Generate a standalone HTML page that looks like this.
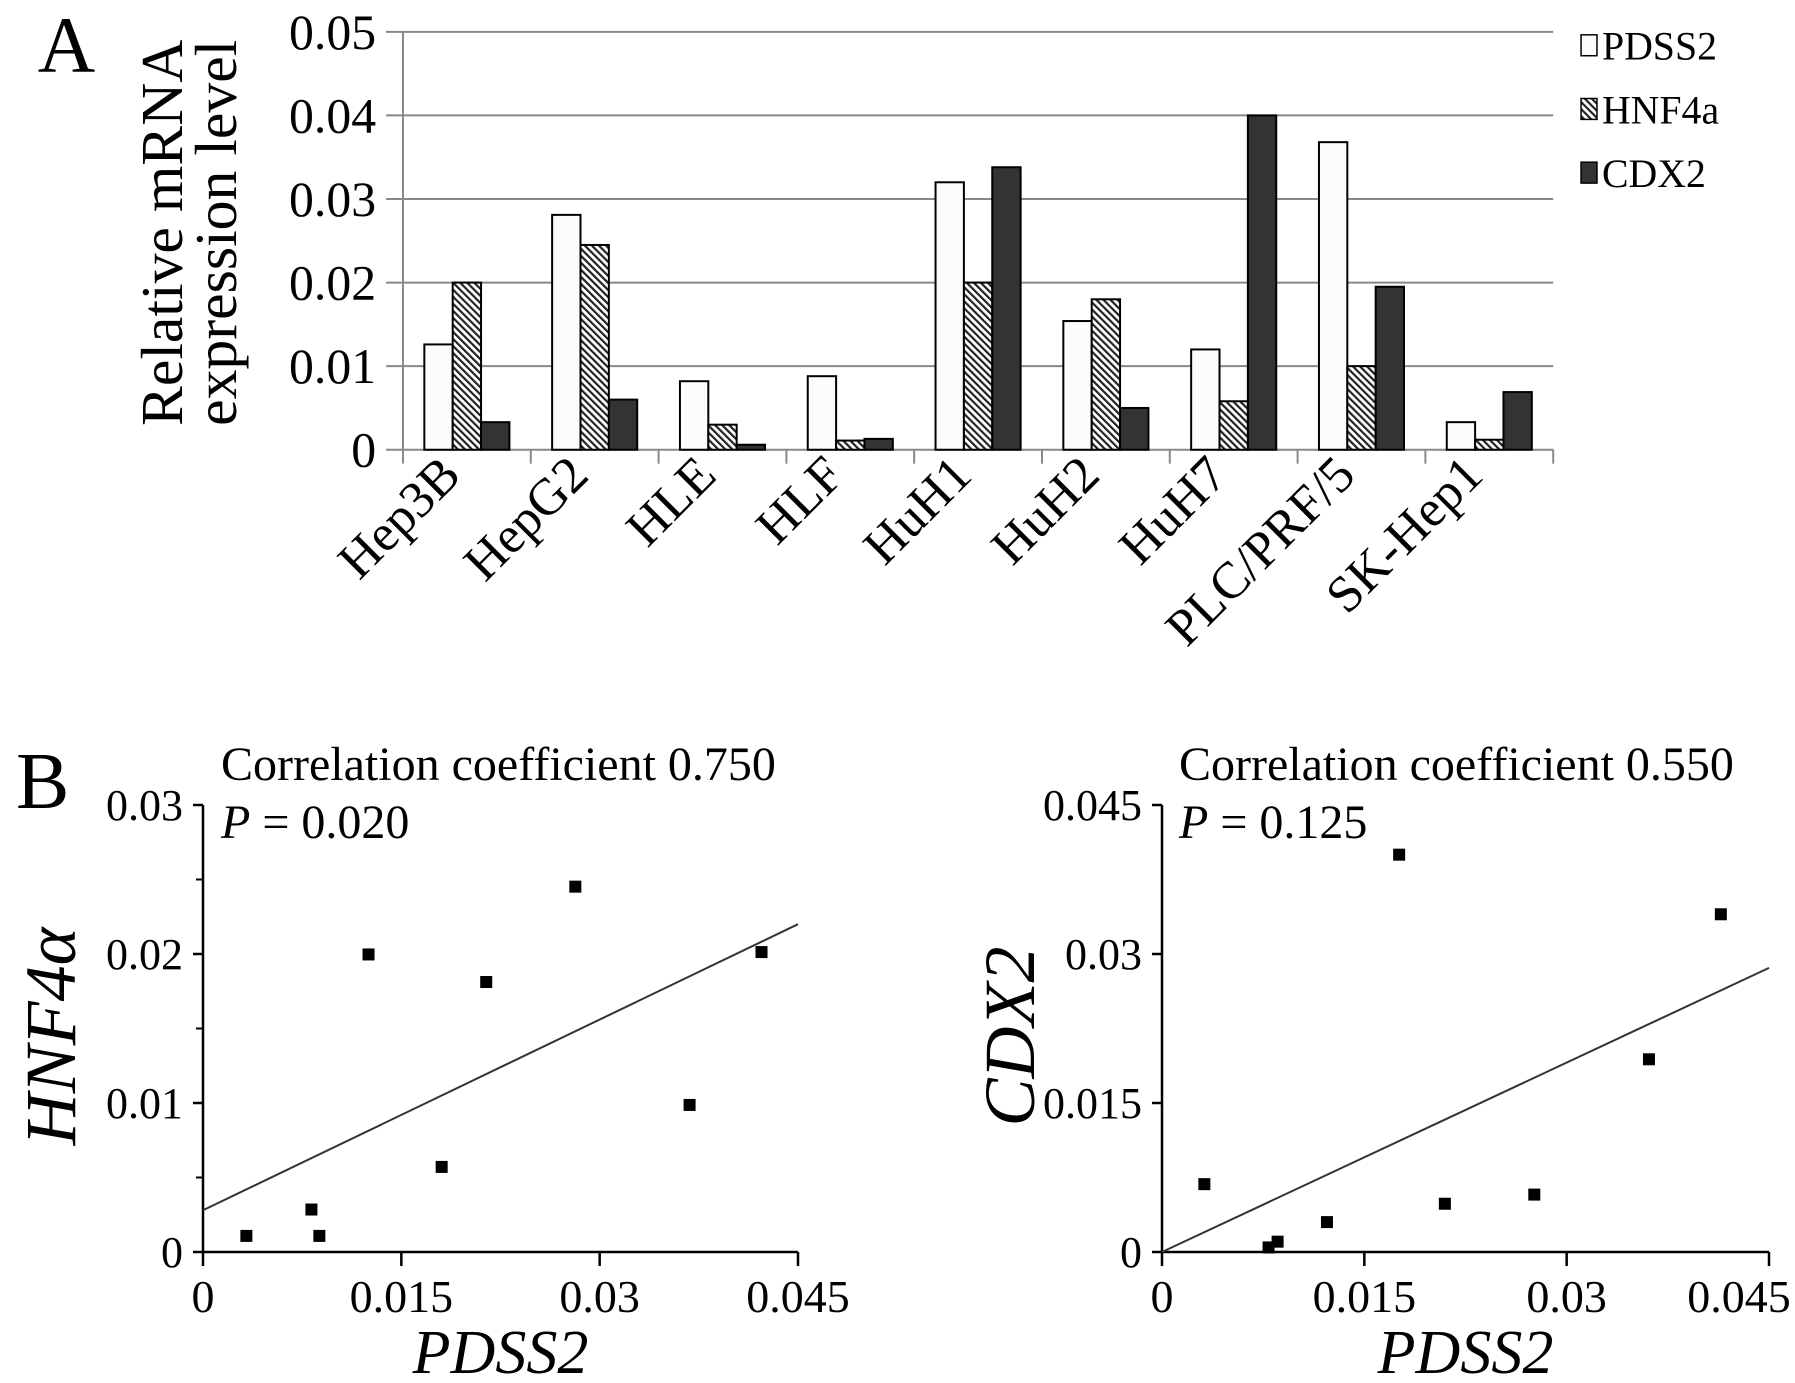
<!DOCTYPE html>
<html><head><meta charset="utf-8">
<style>
html,body{margin:0;padding:0;background:#fff;}
svg{display:block;font-family:"Liberation Serif",serif;}
</style></head>
<body>
<svg id="fig" width="1795" height="1383" viewBox="0 0 1795 1383" xmlns="http://www.w3.org/2000/svg">
<defs>
<pattern id="hatch" patternUnits="userSpaceOnUse" width="5" height="5" patternTransform="rotate(-45)">
<rect width="5" height="5" fill="#fff"/><rect width="2.2" height="5" fill="#222"/>
</pattern>
</defs>
<g transform="scale(0.995)">
<g id="barChart"></g>
</g>
<g id="sc1"></g>
<g id="sc2"></g>
</svg>
<script>
const categories = ["Hep3B","HepG2","HLE","HLF","HuH1","HuH2","HuH7","PLC/PRF/5","SK-Hep1"];
const pdss2Values = [0.0126,0.0281,0.0082,0.0088,0.0320,0.0154,0.0120,0.0368,0.0033];
const hnf4aValues = [0.0200,0.0245,0.0030,0.0011,0.0200,0.0180,0.0058,0.0100,0.0012];
const cdx2Values  = [0.0033,0.0060,0.0006,0.0013,0.0338,0.0050,0.0400,0.0195,0.0069];
const barTicks = [0,0.01,0.02,0.03,0.04,0.05];
const barTickLabels = ["0","0.01","0.02","0.03","0.04","0.05"];
const seriesNames = ["PDSS2","HNF4a","CDX2"];

const sc1X = [0.00328,0.0082,0.0088,0.01252,0.01805,0.02142,0.02816,0.0368,0.04224];
const sc1Y = [0.00108,0.00285,0.00108,0.01997,0.00571,0.01812,0.02452,0.00987,0.02013];
const sc1Fit = [0.0028,0.022];
const sc2X = [0.00314,0.0079,0.00857,0.01223,0.01758,0.02097,0.0276,0.0361,0.04143];
const sc2Y = [0.00683,0.00046,0.00104,0.00301,0.0400,0.00486,0.00578,0.0194,0.0340];
const sc2Fit = [0.0,0.0286];
const scXTicks = [0,0.015,0.03,0.045];
const scXTickLabels = ["0","0.015","0.03","0.045"];
const sc1YTicks = [0,0.01,0.02,0.03];
const sc1YTickLabels = ["0","0.01","0.02","0.03"];
const sc2YTicks = [0,0.015,0.03,0.045];
const sc2YTickLabels = ["0","0.015","0.03","0.045"];

const NS="http://www.w3.org/2000/svg";
function mk(parent,tag,attrs,text){const e=document.createElementNS(NS,tag);for(const k in attrs)e.setAttribute(k,attrs[k]);if(text!==undefined)e.textContent=text;parent.appendChild(e);return e;}

(function(){
const g=document.getElementById('barChart');
const L=405,R=1561,Y0=452,YT=32,ymax=0.05;
const yS=v=>Y0-(v/ymax)*(Y0-YT);
const cw=(R-L)/categories.length;
const xS=i=>L+i*cw;
barTicks.forEach((t,i)=>{
  if(i>0){const gl=mk(g,'line',{x1:388,x2:R,y1:yS(t),y2:yS(t),stroke:'#888','stroke-width':2});
  
  }
  const tl=mk(g,'text',{x:378,y:yS(t)+17,'text-anchor':'end','font-size':50},barTickLabels[i]);
  
  
});
mk(g,'line',{x1:L,x2:L,y1:YT,y2:466,stroke:'#888','stroke-width':2});
mk(g,'line',{x1:388,x2:R,y1:Y0,y2:Y0,stroke:'#888','stroke-width':2});
for(let i=1;i<=categories.length;i++){mk(g,'line',{x1:xS(i),x2:xS(i),y1:Y0,y2:466,stroke:'#888','stroke-width':2});}
const bw=28.5, series=[pdss2Values,hnf4aValues,cdx2Values], fills=['#fcfcfc','url(#hatch)','#333'];
categories.forEach((c,i)=>{
  const gx=xS(i)+(cw-3*bw)/2;
  series.forEach((s,j)=>{
    const b=mk(g,'rect',{x:gx+j*bw,y:yS(s[i]),width:bw,height:Y0-yS(s[i]),fill:fills[j],stroke:'#000','stroke-width':2});
    
    
  });
  const cx=xS(i)+cw/2-4;
  const t=mk(g,'text',{x:cx,y:480,'text-anchor':'end','font-size':52,transform:`rotate(-45 ${cx} 480)`},c);
  
  
});
const yt=mk(g,'text',{transform:'translate(183,234) rotate(-90)','text-anchor':'middle','font-size':60},'');


mk(yt,'tspan',{x:0,y:0},'Relative mRNA');
mk(yt,'tspan',{x:0,y:54},'expression level');
const A=mk(g,'text',{x:38,y:72,'font-size':80},'A');


seriesNames.forEach((n,j)=>{
  const cy=46+j*64;
  const lg=mk(g,'g',{});
  
  
  mk(lg,'rect',{x:1589,y:cy-11,width:16,height:21,fill:fills[j],stroke:'#000','stroke-width':1.5});
  mk(lg,'text',{x:1610,y:cy+14,'font-size':40},n);
});
})();

function scatter(id,X,Y,fit,L,R,Y0,YT,ymax,yTicks,yLabels,minor,yTitle,corr,pval,tx,panel,lastShift){
  const g=document.getElementById(id);
  const xS=v=>L+v/0.045*(R-L), yS=v=>Y0-v/ymax*(Y0-YT);
  mk(g,'line',{x1:L,x2:L,y1:YT,y2:Y0,stroke:'#000','stroke-width':2.5});
  mk(g,'line',{x1:L,x2:R,y1:Y0,y2:Y0,stroke:'#000','stroke-width':2.5});
  yTicks.forEach((t,i)=>{
    mk(g,'line',{x1:L-10,x2:L,y1:yS(t),y2:yS(t),stroke:'#000','stroke-width':2.5});
    const tl=mk(g,'text',{x:L-20,y:yS(t)+15,'text-anchor':'end','font-size':44},yLabels[i]);
    
    
  });
  minor.forEach(t=>mk(g,'line',{x1:L-7,x2:L,y1:yS(t),y2:yS(t),stroke:'#000','stroke-width':2}));
  scXTicks.forEach((t,i)=>{
    mk(g,'line',{x1:xS(t),x2:xS(t),y1:Y0,y2:Y0+14,stroke:'#000','stroke-width':2.5});
    const sh=(i===scXTicks.length-1)?lastShift:0;
    const tl=mk(g,'text',{x:xS(t)+sh,y:Y0+60,'text-anchor':'middle','font-size':46},scXTickLabels[i]);
    
    
  });
  const fl=mk(g,'line',{x1:xS(0),y1:yS(fit[0]),x2:xS(0.045),y2:yS(fit[1]),stroke:'#333','stroke-width':2});
  
  
  X.forEach((x,i)=>{
    const p=mk(g,'rect',{x:xS(x)-6,y:yS(Y[i])-6,width:12,height:12,fill:'#000'});
    
    
  });
  const xt=mk(g,'text',{x:(L+R)/2,y:1373,'text-anchor':'middle','font-size':62,'font-style':'italic'},'PDSS2');
  
  
  const yt=mk(g,'text',{transform:`translate(${L-128},${(Y0+YT)/2+8}) rotate(-90)`,'text-anchor':'middle','font-size':72,'font-style':'italic'},yTitle);
  
  
  const c=mk(g,'text',{x:tx,y:780,'font-size':48},corr);
  
  
  const pt=mk(g,'text',{x:tx,y:838,'font-size':48},'');
  
  
  mk(pt,'tspan',{'font-style':'italic'},'P');
  mk(pt,'tspan',{},' = '+pval);
  if(panel){const b=mk(g,'text',{x:16,y:808,'font-size':80},panel);
  
  }
}
scatter('sc1',sc1X,sc1Y,sc1Fit,203,798,1252,805,0.03,sc1YTicks,sc1YTickLabels,[0.005,0.015,0.025],'HNF4α','Correlation coefficient 0.750','0.020',221,'B',0);
scatter('sc2',sc2X,sc2Y,sc2Fit,1162,1769,1252,805,0.045,sc2YTicks,sc2YTickLabels,[],'CDX2','Correlation coefficient 0.550','0.125',1179,null,-30);
</script>
</body></html>
